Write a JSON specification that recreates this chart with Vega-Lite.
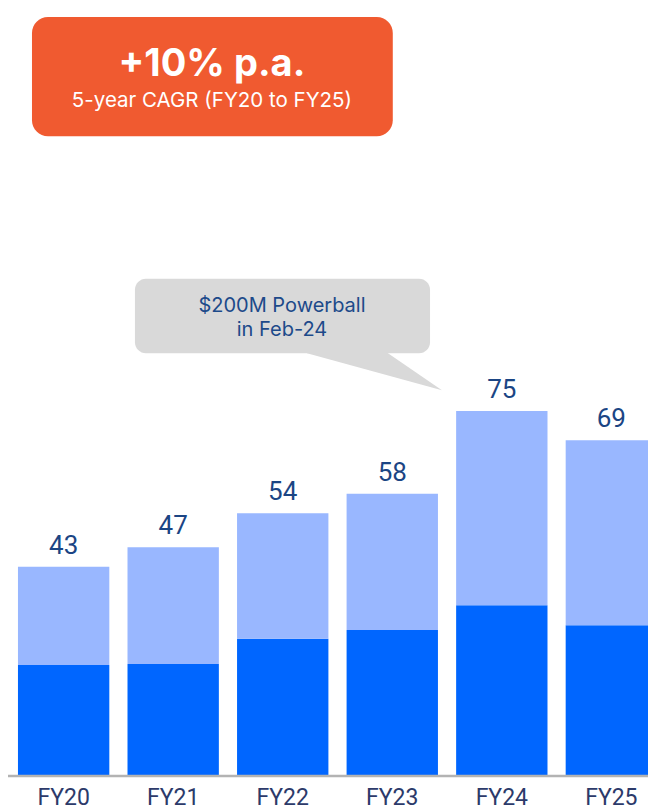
{
  "$schema": "https://vega.github.io/schema/vega-lite/v6.json",
  "width": 648,
  "height": 776,
  "autosize": {"type": "none"},
  "padding": {"left": 0, "top": 0, "right": 0, "bottom": 36},
  "background": "white",
  "config": {"view": {"stroke": null}},
  "datasets": {
    "bars": [
      {"year": "FY20", "segment": "lower", "ord": 1, "value": 22.8},
      {"year": "FY20", "segment": "upper", "ord": 2, "value": 20.2},
      {"year": "FY21", "segment": "lower", "ord": 1, "value": 23.0},
      {"year": "FY21", "segment": "upper", "ord": 2, "value": 24.0},
      {"year": "FY22", "segment": "lower", "ord": 1, "value": 28.2},
      {"year": "FY22", "segment": "upper", "ord": 2, "value": 25.8},
      {"year": "FY23", "segment": "lower", "ord": 1, "value": 30.0},
      {"year": "FY23", "segment": "upper", "ord": 2, "value": 28.0},
      {"year": "FY24", "segment": "lower", "ord": 1, "value": 35.1},
      {"year": "FY24", "segment": "upper", "ord": 2, "value": 39.9},
      {"year": "FY25", "segment": "lower", "ord": 1, "value": 31.0},
      {"year": "FY25", "segment": "upper", "ord": 2, "value": 38.0}
    ],
    "totals": [
      {"year": "FY20", "total": 43},
      {"year": "FY21", "total": 47},
      {"year": "FY22", "total": 54},
      {"year": "FY23", "total": 58},
      {"year": "FY24", "total": 75},
      {"year": "FY25", "total": 69}
    ]
  },
  "resolve": {"scale": {"x": "independent"}, "axis": {"x": "independent"}},
  "layer": [
    {
      "layer": [
        {
          "data": {"name": "bars"},
          "mark": {"type": "bar"},
          "encoding": {
            "x": {
              "field": "year", "type": "nominal",
              "scale": {"paddingInner": 0.166, "paddingOuter": 0.164, "range": [0, 675]},
              "axis": {
                "title": null, "domain": false, "ticks": false, "labelAngle": 0,
                "labelFont": "Roboto", "labelFontSize": 23, "labelColor": "#2c3a6a",
                "labelPadding": 10, "labelBaseline": "top", "labelOverlap": false, "labelBound": false
              }
            },
            "y": {
              "field": "value", "type": "quantitative", "stack": "zero",
              "scale": {"domain": [0, 159.5], "nice": false, "zero": true},
              "axis": null
            },
            "order": {"field": "ord", "type": "quantitative", "sort": "ascending"},
            "color": {
              "field": "segment", "type": "nominal",
              "scale": {"domain": ["lower", "upper"], "range": ["#0066ff", "#99b7ff"]},
              "legend": null
            }
          }
        },
        {
          "data": {"name": "totals"},
          "mark": {"type": "text", "baseline": "alphabetic", "align": "center", "dy": -13, "font": "Roboto", "fontSize": 26, "color": "#1b4584"},
          "encoding": {
            "x": {"field": "year", "type": "nominal"},
            "y": {"field": "total", "type": "quantitative"},
            "text": {"field": "total", "type": "quantitative"}
          }
        }
      ]
    },
    {
      "layer": [
        {
          "data": {"values": [{"item": "axis line"}]},
          "mark": {"type": "rule", "color": "#b3b3b3", "strokeWidth": 2.5},
          "encoding": {
            "x": {"datum": 0.073, "type": "quantitative", "scale": {"domain": [0, 5.916], "nice": false, "zero": false}, "axis": null},
            "x2": {"datum": 5.916},
            "y": {"datum": 0, "type": "quantitative"}
          }
        },
        {
          "data": {"values": [{"item": "cagr box"}]},
          "mark": {"type": "rect", "color": "#f05a30", "cornerRadius": 16},
          "encoding": {
            "x": {"datum": 0.292, "type": "quantitative"},
            "x2": {"datum": 3.586},
            "y": {"datum": 156.0, "type": "quantitative"},
            "y2": {"datum": 131.5}
          }
        },
        {
          "data": {"values": [{"label": "+10% p.a."}]},
          "mark": {"type": "text", "align": "center", "baseline": "alphabetic", "font": "Inter", "fontWeight": "bold", "fontSize": 38, "color": "white"},
          "encoding": {
            "x": {"datum": 1.935, "type": "quantitative"},
            "y": {"datum": 143.9, "type": "quantitative"},
            "text": {"field": "label"}
          }
        },
        {
          "data": {"values": [{"label": "5-year CAGR (FY20 to FY25)"}]},
          "mark": {"type": "text", "align": "center", "baseline": "alphabetic", "font": "Inter", "fontSize": 20.5, "color": "white"},
          "encoding": {
            "x": {"datum": 1.935, "type": "quantitative"},
            "y": {"datum": 137.5, "type": "quantitative"},
            "text": {"field": "label"}
          }
        },
        {
          "data": {"values": [
            {"px": 2.803, "top": 88.0, "bottom": 86.9},
            {"px": 3.469, "top": 88.0, "bottom": 82.79},
            {"px": 4.035, "top": 79.3, "bottom": 79.3}
          ]},
          "mark": {"type": "area", "color": "#d9d9d9", "interpolate": "linear"},
          "encoding": {
            "x": {"field": "px", "type": "quantitative"},
            "y": {"field": "top", "type": "quantitative"},
            "y2": {"field": "bottom"}
          }
        },
        {
          "data": {"values": [{"item": "callout box"}]},
          "mark": {"type": "rect", "color": "#d9d9d9", "cornerRadius": 11},
          "encoding": {
            "x": {"datum": 1.232, "type": "quantitative"},
            "x2": {"datum": 3.926},
            "y": {"datum": 102.2, "type": "quantitative"},
            "y2": {"datum": 86.9}
          }
        },
        {
          "data": {"values": [{"label": "$200M Powerball\nin Feb-24"}]},
          "mark": {"type": "text", "align": "center", "baseline": "alphabetic", "lineBreak": "\n", "lineHeight": 24, "font": "Inter", "fontSize": 20, "color": "#1d4a8a"},
          "encoding": {
            "x": {"datum": 2.574, "type": "quantitative"},
            "y": {"datum": 95.4, "type": "quantitative"},
            "text": {"field": "label"}
          }
        }
      ]
    }
  ]
}
